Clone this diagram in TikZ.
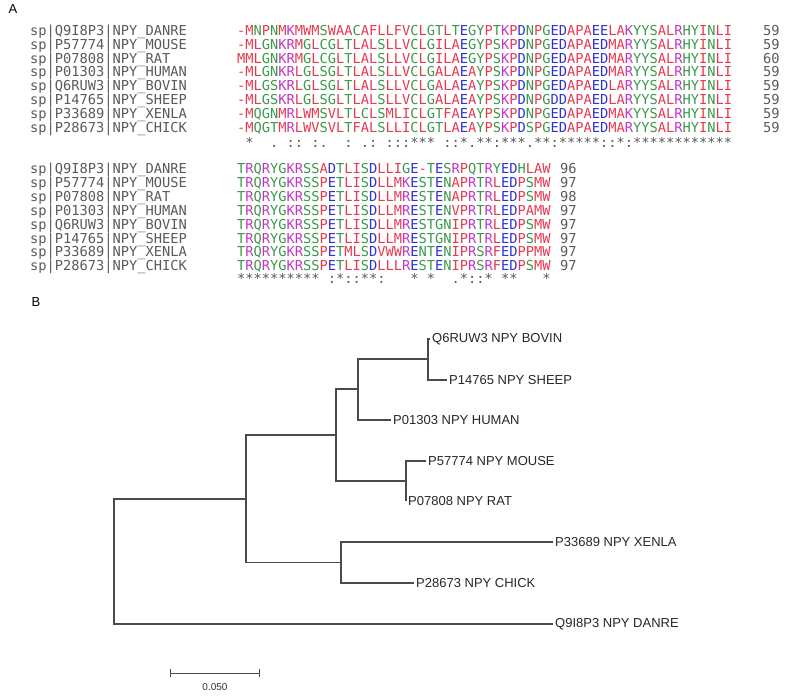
\documentclass[tikz,border=0pt]{standalone}
\usepackage{fontspec}
\setmainfont{Liberation Sans}
\newfontfamily\seqfont{DejaVu Sans Mono}

\definecolor{resred}{HTML}{E8394F}
\definecolor{resblue}{HTML}{2B32D6}
\definecolor{resmag}{HTML}{C236C6}
\definecolor{resgreen}{HTML}{3A9A4A}
\definecolor{resgap}{HTML}{E8394F}
\definecolor{idgray}{HTML}{5A5A5A}
\definecolor{treegray}{HTML}{4A4A4A}
\colorlet{resA}{resred}\colorlet{resV}{resred}\colorlet{resF}{resred}\colorlet{resP}{resred}
\colorlet{resM}{resred}\colorlet{resI}{resred}\colorlet{resL}{resred}\colorlet{resW}{resred}
\colorlet{resD}{resblue}\colorlet{resE}{resblue}
\colorlet{resR}{resmag}\colorlet{resK}{resmag}
\colorlet{resS}{resgreen}\colorlet{resT}{resgreen}\colorlet{resY}{resgreen}\colorlet{resH}{resgreen}
\colorlet{resC}{resgreen}\colorlet{resN}{resgreen}\colorlet{resG}{resgreen}\colorlet{resQ}{resgreen}

\def\colseq#1{\colseqloop#1\relax}
\def\colseqloop#1{\ifx#1\relax\else\colres{#1}\expandafter\colseqloop\fi}
\def\colres#1{\if#1-\textcolor{resgap}{-}\else\textcolor{res#1}{#1}\fi}
\def\usc{\char95\relax}

\tikzset{
  seqtext/.style={anchor=base west, inner sep=0pt, font=\seqfont\fontsize{13.7}{14}\selectfont},
  idtext/.style={seqtext, text=idgray},
  leaf/.style={anchor=west, inner sep=2pt, font=\fontsize{13}{15}\selectfont, text=black!85},
  branch/.style={draw=treegray, line width=1.1pt},
  paneltag/.style={inner sep=0pt, font=\fontsize{13}{15}\selectfont}
}

\begin{document}
\begin{tikzpicture}[x=1pt, y=-1pt]
\useasboundingbox (0,0) rectangle (788,696);

\node[paneltag] (tagA) at (13,9) {A};

% first block
\foreach \id/\sq/\num [count=\i] in {
  sp|Q9I8P3|NPY\usc DANRE/-MNPNMKMWMSWAACAFLLFVCLGTLTEGYPTKPDNPGEDAPAEELAKYYSALRHYINLI/59,
  sp|P57774|NPY\usc MOUSE/-MLGNKRMGLCGLTLALSLLVCLGILAEGYPSKPDNPGEDAPAEDMARYYSALRHYINLI/59,
  sp|P07808|NPY\usc RAT/MMLGNKRMGLCGLTLALSLLVCLGILAEGYPSKPDNPGEDAPAEDMARYYSALRHYINLI/60,
  sp|P01303|NPY\usc HUMAN/-MLGNKRLGLSGLTLALSLLVCLGALAEAYPSKPDNPGEDAPAEDMARYYSALRHYINLI/59,
  sp|Q6RUW3|NPY\usc BOVIN/-MLGSKRLGLSGLTLALSLLVCLGALAEAYPSKPDNPGEDAPAEDLARYYSALRHYINLI/59,
  sp|P14765|NPY\usc SHEEP/-MLGSKRLGLSGLTLALSLLVCLGALAEAYPSKPDNPGDDAPAEDLARYYSALRHYINLI/59,
  sp|P33689|NPY\usc XENLA/-MQGNMRLWMSVLTLCLSMLICLGTFAEAYPSKPDNPGEDAPAEDMAKYYSALRHYINLI/59,
  sp|P28673|NPY\usc CHICK/-MQGTMRLWVSVLTFALSLLICLGTLAEAYPSKPDSPGEDAPAEDMARYYSALRHYINLI/59}
{
  \node[idtext] (ida\i) at (30,{35.5+13.8*(\i-1)}) {\id};
  \node[seqtext] (sqa\i) at (237,{35.5+13.8*(\i-1)}) {\expandafter\colseq\expandafter{\sq}};
  \node[idtext] (nma\i) at (763,{35.5+13.8*(\i-1)}) {\num};
}
\node[idtext] (consa) at (237,147) {~*~~.~::~:.~~:~.:~:::***~::*.**:***.**:*****::*:************};

% second block
\foreach \id/\sq/\num [count=\i] in {
  sp|Q9I8P3|NPY\usc DANRE/TRQRYGKRSSADTLISDLLIGE-TESRPQTRYEDHLAW/96,
  sp|P57774|NPY\usc MOUSE/TRQRYGKRSSPETLISDLLMKESTENAPRTRLEDPSMW/97,
  sp|P07808|NPY\usc RAT/TRQRYGKRSSPETLISDLLMRESTENAPRTRLEDPSMW/98,
  sp|P01303|NPY\usc HUMAN/TRQRYGKRSSPETLISDLLMRESTENVPRTRLEDPAMW/97,
  sp|Q6RUW3|NPY\usc BOVIN/TRQRYGKRSSPETLISDLLMRESTGNIPRTRLEDPSMW/97,
  sp|P14765|NPY\usc SHEEP/TRQRYGKRSSPETLISDLLMRESTGNIPRTRLEDPSMW/97,
  sp|P33689|NPY\usc XENLA/TRQRYGKRSSPETMLSDVWWRENTENIPRSRFEDPPMW/97,
  sp|P28673|NPY\usc CHICK/TRQRYGKRSSPETLISDLLLRESTENIPRSRFEDPSMW/97}
{
  \node[idtext] (idb\i) at (30,{173.5+13.9*(\i-1)}) {\id};
  \node[seqtext] (sqb\i) at (237,{173.5+13.9*(\i-1)}) {\expandafter\colseq\expandafter{\sq}};
  \node[idtext] (nmb\i) at (560,{173.5+13.9*(\i-1)}) {\num};
}
\node[idtext] (consb) at (237,283) {**********~:*::**:~~~*~*~~.*::*~**~~~*};

\node[paneltag] (tagB) at (36,302) {B};

% tree
\coordinate (root) at (114,561.5);
\coordinate (n2) at (246,499);
\coordinate (n3) at (336,435);
\coordinate (n4) at (358,389);
\coordinate (n5) at (428,359);
\coordinate (n6) at (406,481);
\coordinate (n7) at (341,562.5);

\node[leaf] (bovin) at (430,339) {Q6RUW3 NPY BOVIN};
\node[leaf] (sheep) at (447,380) {P14765 NPY SHEEP};
\node[leaf] (human) at (391,420) {P01303 NPY HUMAN};
\node[leaf] (mouse) at (426,461) {P57774 NPY MOUSE};
\node[leaf] (rat) at (406,501) {P07808 NPY RAT};
\node[leaf] (xenla) at (553,542) {P33689 NPY XENLA};
\node[leaf] (chick) at (414,583) {P28673 NPY CHICK};
\node[leaf] (danre) at (553,624) {Q9I8P3 NPY DANRE};

\draw[branch] (n2) -| (root) |- (danre.west);
\draw[branch] (n3) -| (n2) |- (n7);
\draw[branch] (n4) -| (n3) |- (n6);
\draw[branch] (n5) -| (n4) |- (human.west);
\draw[branch] (bovin.west) -| (n5) |- (sheep.west);
\draw[branch] (mouse.west) -| (n6) |- (rat.west);
\draw[branch] (xenla.west) -| (n7) |- (chick.west);

% scale bar
\coordinate (sbl) at (170,673);
\coordinate (sbr) at (260,673);
\draw[branch, line width=0.9pt, |-|] (sbl) -- (sbr);
\node[font=\fontsize{10}{12}\selectfont, text=black!80] (sblab) at (215,687) {0.050};
\end{tikzpicture}
\end{document}
